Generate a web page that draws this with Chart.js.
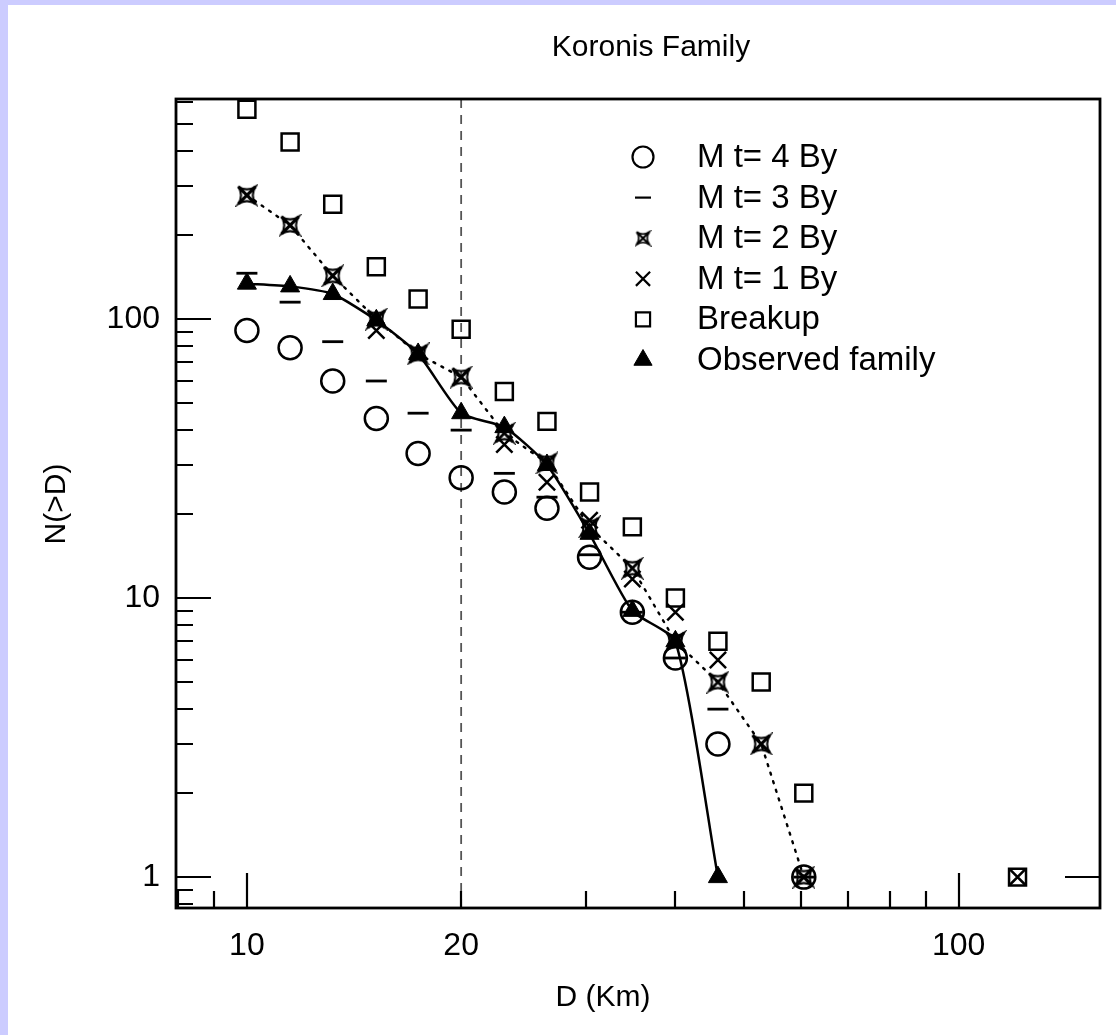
<!DOCTYPE html>
<html>
<head>
<meta charset="utf-8">
<title>Koronis Family</title>
<script src="https://cdn.jsdelivr.net/npm/chart.js@4"></script>
<style>
  html, body { margin: 0; padding: 0; background: #ccccff; }
  body { width: 1116px; height: 1035px; overflow: hidden; position: relative; }
  #wrap { position: absolute; left: 8px; top: 5px; width: 1108px; height: 1030px; background: #fff; }
</style>
</head>
<body>
<div id="wrap"><canvas id="chartKoronis" width="1108" height="1030"></canvas></div>
<script>
// D (km) of each cumulative bin, and N(>D) for every model
var diameters = [10, 11.5, 13.2, 15.2, 17.4, 20, 23, 26.4, 30.3, 34.8, 40, 45.9, 52.8, 60.6, 121];
var mt4 = [91, 79, 60, 44, 33, 27, 24, 21, 14, 8.9, 6.1, 3, null, 1, null];
var mt3 = [146, 115, 83, 60, 46, 40, 28, 23, 14.3, 8.9, 6.1, 4, null, 1, null];
var mt2 = [278, 217, 143, 100, 75, 62, 39, 30.5, 18, 12.8, 7, 5, 3, 1, null];
var mt1 = [278, 217, 143, 91, 75, 62, 35.5, 26, 19, 11.7, 8.9, 6, 3, 1, 1];
var breakup = [565, 431, 258, 154, 118, 92, 55, 43, 24, 18, 10, 7, 5, 2, 1];
var observed = [134, 131, 123, 99, 75, 46, 41, 30, 17, 9, 7, 1, null, null, null];

var cutoffD = 20;
var xTicks = [10, 20, 100];
var yTicks = [1, 10, 100];
var xRange = [7.95, 158];
var yRange = [0.775, 615];

function pts(values) {
    var out = [];
    for (var i = 0; i < diameters.length; i++) {
        if (values[i] !== null) out.push({x: diameters[i], y: values[i]});
    }
    return out;
}

// the "M t= 2 By" marker: bold x inside a pinched square
function starX(size, lw) {
    var c = document.createElement('canvas');
    c.width = c.height = size;
    var g = c.getContext('2d');
    var m = size / 2, r = size / 2 - lw;
    g.strokeStyle = '#000';
    g.lineWidth = lw;
    g.beginPath();
    g.moveTo(m - r, m - r); g.lineTo(m + r, m + r);
    g.moveTo(m + r, m - r); g.lineTo(m - r, m + r);
    g.stroke();
    g.lineWidth = lw * 0.75;
    var k = r * 0.35;
    g.beginPath();
    g.moveTo(m - r, m - r);
    g.quadraticCurveTo(m, m - k, m + r, m - r);
    g.quadraticCurveTo(m + k, m, m + r, m + r);
    g.quadraticCurveTo(m, m + k, m - r, m + r);
    g.quadraticCurveTo(m - k, m, m - r, m - r);
    g.stroke();
    return c;
}
var starBig = starX(23, 2.8);
var starSmall = starX(17, 2.2);

var FONT = "'Liberation Sans', Arial, Helvetica, sans-serif";
Chart.defaults.font.family = FONT;
Chart.defaults.color = '#000';

var legendItems = [
    {text: 'M t= 4 By', style: 'circle', r: 10.5, bw: 2.2, fill: 'rgba(0,0,0,0)'},
    {text: 'M t= 3 By', style: 'line', r: 8, bw: 2.2, fill: 'rgba(0,0,0,0)'},
    {text: 'M t= 2 By', style: starSmall, r: 8, bw: 2.2, fill: 'rgba(0,0,0,0)'},
    {text: 'M t= 1 By', style: 'crossRot', r: 10, bw: 2.2, fill: 'rgba(0,0,0,0)'},
    {text: 'Breakup', style: 'rect', r: 10, bw: 2.2, fill: 'rgba(0,0,0,0)'},
    {text: 'Observed family', style: 'triangle', r: 10.5, bw: 1, fill: '#000'}
];

var koronisDecor = {
    id: 'koronisDecor',
    afterDraw: function (chart) {
        var ctx = chart.ctx, area = chart.chartArea;
        var xs = chart.scales.x, ys = chart.scales.y;
        ctx.save();
        ctx.strokeStyle = '#000';
        ctx.lineWidth = 2.2;
        ctx.beginPath();
        var e, m, v, p, len;
        for (e = -1; e <= 2; e++) {
            for (m = 1; m <= 9; m++) {
                v = m * Math.pow(10, e);
                if (v < ys.min || v > ys.max) continue;
                p = Math.round(ys.getPixelForValue(v));
                len = m === 1 ? 35 : 17;
                ctx.moveTo(area.left, p); ctx.lineTo(area.left + len, p);
            }
        }
        for (e = 0; e <= 2; e++) {
            for (m = 1; m <= 9; m++) {
                v = m * Math.pow(10, e);
                if (v < xs.min || v > xs.max) continue;
                p = Math.round(xs.getPixelForValue(v));
                len = m === 1 ? 35 : 17;
                ctx.moveTo(p, area.bottom); ctx.lineTo(p, area.bottom - len);
            }
        }
        p = Math.round(ys.getPixelForValue(1));
        ctx.moveTo(area.right - 35, p); ctx.lineTo(area.right, p);
        ctx.stroke();

        ctx.lineWidth = 2.8;
        ctx.strokeRect(area.left, area.top, area.right - area.left, area.bottom - area.top);

        // titles
        ctx.fillStyle = '#000';
        ctx.textAlign = 'center';
        ctx.textBaseline = 'middle';
        ctx.font = '30px ' + FONT;
        ctx.fillText('Koronis Family', 643, 43);
        ctx.fillText('D (Km)', 595, 993);
        ctx.save();
        ctx.translate(49, 499);
        ctx.rotate(-Math.PI / 2);
        ctx.fillText('N(>D)', 0, 0);
        ctx.restore();

        // legend
        ctx.textAlign = 'left';
        ctx.font = '33px ' + FONT;
        for (var i = 0; i < legendItems.length; i++) {
            var it = legendItems[i];
            var y = 152 + i * 40.6;
            ctx.fillStyle = it.fill;
            ctx.strokeStyle = '#000';
            ctx.lineWidth = it.bw;
            Chart.helpers.drawPoint(ctx, {pointStyle: it.style, radius: it.r, borderWidth: it.bw, rotation: 0}, 635, y);
            ctx.fillStyle = '#000';
            ctx.fillText(it.text, 689, y + 1);
        }
        ctx.restore();
    }
};

var open = 'rgba(0,0,0,0)';
var koronis = document.getElementById('chartKoronis').getContext('2d');
var chart = new Chart(koronis, {
    type: 'line',
    data: {
        datasets: [{
            label: 'Observed family',
            data: pts(observed),
            borderColor: '#000',
            borderWidth: 2.5,
            tension: 0.2,
            pointStyle: 'triangle',
            pointRadius: 11,
            pointBackgroundColor: '#000',
            pointBorderColor: '#000',
            pointBorderWidth: 1,
            order: 1
        }, {
            label: 'M t= 1 By',
            data: pts(mt1),
            showLine: false,
            pointStyle: 'crossRot',
            pointRadius: 11.5,
            pointBorderColor: '#000',
            pointBorderWidth: 2.5,
            order: 2
        }, {
            label: 'M t= 2 By',
            data: pts(mt2),
            borderColor: '#000',
            borderWidth: 2.4,
            borderDash: [2, 7],
            borderCapStyle: 'round',
            pointStyle: starBig,
            pointRadius: 11,
            order: 3
        }, {
            label: 'M t= 3 By',
            data: pts(mt3),
            showLine: false,
            pointStyle: 'line',
            pointRadius: 10.5,
            pointBorderColor: '#000',
            pointBorderWidth: 2.8,
            order: 4
        }, {
            label: 'M t= 4 By',
            data: pts(mt4),
            showLine: false,
            pointStyle: 'circle',
            pointRadius: 11.5,
            pointBackgroundColor: open,
            pointBorderColor: '#000',
            pointBorderWidth: 2.5,
            order: 5
        }, {
            label: 'Breakup',
            data: pts(breakup),
            showLine: false,
            pointStyle: 'rect',
            pointRadius: 12,
            pointBackgroundColor: open,
            pointBorderColor: '#000',
            pointBorderWidth: 2.5,
            order: 6
        }, {
            label: 'D = 20 km',
            data: [{x: cutoffD, y: yRange[0]}, {x: cutoffD, y: yRange[1]}],
            borderColor: '#555',
            borderWidth: 1.8,
            borderDash: [9, 7],
            pointRadius: 0,
            order: 7
        }]
    },
    options: {
        responsive: false,
        animation: false,
        devicePixelRatio: 1,
        layout: {padding: {top: 94, right: 16, left: 0, bottom: 0}},
        plugins: {legend: {display: false}, tooltip: {enabled: false}, title: {display: false}},
        scales: {
            x: {
                type: 'logarithmic',
                min: xRange[0],
                max: xRange[1],
                grid: {display: false, drawTicks: false},
                border: {display: false},
                afterFit: function (s) { s.height = 127; },
                afterBuildTicks: function (s) { s.ticks = xTicks.map(function (v) { return {value: v}; }); },
                ticks: {
                    autoSkip: false, maxRotation: 0, padding: 19,
                    font: {size: 32},
                    callback: function (v) { return String(v); }
                }
            },
            y: {
                type: 'logarithmic',
                min: yRange[0],
                max: yRange[1],
                grid: {display: false, drawTicks: false},
                border: {display: false},
                afterFit: function (s) { s.width = 168; },
                afterBuildTicks: function (s) { s.ticks = yTicks.map(function (v) { return {value: v}; }); },
                ticks: {
                    autoSkip: false, padding: 16,
                    font: {size: 32},
                    callback: function (v) { return String(v); }
                }
            }
        }
    },
    plugins: [koronisDecor]
});
</script>
</body>
</html>
